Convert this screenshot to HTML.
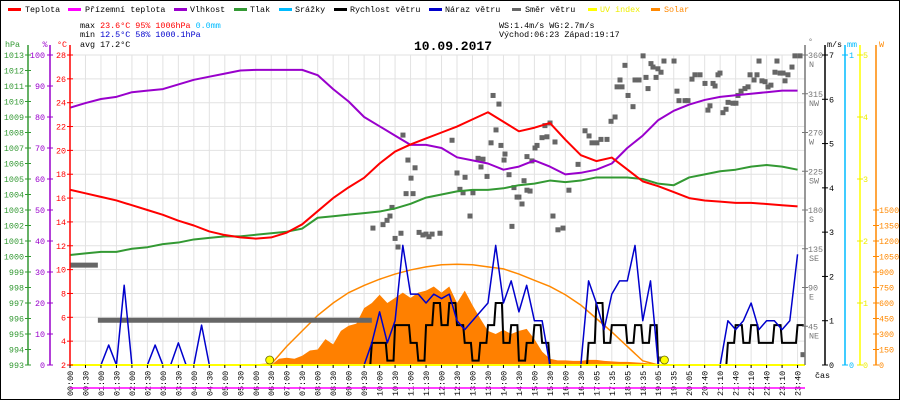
<!DOCTYPE html>
<html><head><meta charset="utf-8"><style>
body{margin:0;background:#fff;}
#wrap{position:relative;width:900px;height:400px;overflow:hidden;}
svg text{font-family:"Liberation Mono",monospace;font-size:8.4px;}
</style></head><body>
<div id="wrap">
<svg id="c" width="900" height="400" viewBox="0 0 900 400" xmlns="http://www.w3.org/2000/svg">
<rect x="0.5" y="0.5" width="899" height="399" fill="#fff" stroke="#000"/>
<g id="legend">
 <g><rect x="8" y="8" width="13" height="3" fill="#f00"/><text x="25" y="12">Teplota</text></g>
 <g><rect x="68" y="8" width="13" height="3" fill="#f0f"/><text x="85" y="12">Přízemní teplota</text></g>
 <g><rect x="174" y="8" width="13" height="3" fill="#90c"/><text x="190" y="12">Vlhkost</text></g>
 <g><rect x="234" y="8" width="13" height="3" fill="#393"/><text x="250" y="12">Tlak</text></g>
 <g><rect x="279" y="8" width="13" height="3" fill="#0bf"/><text x="295" y="12">Srážky</text></g>
 <g><rect x="334" y="8" width="13" height="3" fill="#000"/><text x="350" y="12">Rychlost větru</text></g>
 <g><rect x="429" y="8" width="13" height="3" fill="#00c"/><text x="445" y="12">Náraz větru</text></g>
 <g><rect x="512" y="8" width="9" height="3" fill="#666"/><text x="525" y="12">Směr větru</text></g>
 <g><rect x="588" y="8" width="9" height="3" fill="#ff0"/><text x="600" y="12" fill="#ee0">UV index</text></g>
 <g><rect x="651" y="8" width="9" height="3" fill="#f80"/><text x="664" y="12" fill="#f80">Solar</text></g>
</g>
<g>
 <text x="80" y="28">max <tspan fill="#f00">23.6°C</tspan>  <tspan fill="#f00">95%</tspan>  <tspan fill="#f00">1006hPa</tspan>      <tspan fill="#0bf">0.0mm</tspan></text>
 <text x="80" y="37">min <tspan fill="#00c">12.5°C</tspan>  <tspan fill="#00c">58%</tspan>  <tspan fill="#00c">1000.1hPa</tspan></text>
 <text x="80" y="47">avg 17.2°C</text>
 <text x="499" y="28">WS:1.4m/s     WG:2.7m/s</text>
 <text x="499" y="37">Východ:06:23  Západ:19:17</text>
</g>
<text x="414" y="50" style="font-size:13px;font-weight:bold">10.09.2017</text>
<g id="grid"></g>
<g id="plot"></g>
<g id="axes"></g>
</svg>
</div>
<script>
// ---- data ----
const timeLabels=["00:00","00:30","01:00","01:30","02:00","02:30","03:00","03:30","04:00","04:30","05:00","05:30","06:00","06:30","07:00","07:30","08:00","08:30","09:00","09:30","10:00","10:30","11:00","11:30","12:00","12:30","13:00","13:30","14:00","14:30","15:00","15:30","16:00","16:30","17:05","17:35","18:05","18:35","19:05","19:35","20:05","20:40","21:10","21:40","22:10","22:40","23:10","23:40"];
const temperature=[16.7,16.4,16.1,15.8,15.4,15.0,14.6,14.1,13.7,13.2,12.9,12.7,12.6,12.7,13.1,13.8,14.9,16.0,16.9,17.7,18.9,19.9,20.5,21.0,21.5,22.0,22.6,23.2,22.4,21.6,21.9,22.3,20.9,19.6,19.1,19.4,18.4,17.4,17.0,16.5,16.0,15.8,15.7,15.6,15.6,15.5,15.4,15.3];
const humidity=[83,84.5,85.8,86.5,88,88.5,89,90.5,92,93,94,95,95.2,95.2,95.2,95.2,93.5,89,85,80,77,74,71,71,70,67,66,65,63,64,66,64,61.5,62,63,65,70,74,79,82,84,85.5,86.5,87,87.5,88,88.5,88.5];
const pressure=[1000.1,1000.2,1000.3,1000.3,1000.5,1000.6,1000.8,1000.9,1001.1,1001.2,1001.3,1001.3,1001.4,1001.5,1001.6,1001.8,1002.5,1002.6,1002.7,1002.8,1002.9,1003.1,1003.4,1003.8,1004.0,1004.2,1004.3,1004.3,1004.4,1004.6,1004.7,1004.9,1004.8,1004.9,1005.1,1005.1,1005.1,1005.0,1004.7,1004.6,1005.1,1005.3,1005.5,1005.6,1005.8,1005.9,1005.8,1005.6];
const clearSky=[0,0,0,0,0,0,0,0,0,0,0,0,0,10,180,330,480,600,700,770,830,880,920,950,970,975,970,950,930,880,820,760,680,580,450,320,180,40,0,0,0,0,0,0,0,0,0,0];
// half-tick series (95 values)
const gust=[0,0,0,0,0,0.45,0,1.8,0,0,0,0.45,0,0,0.5,0,0,0.9,0,0,0,0,0,0,0,0,0,0,0,0,0,0,0,0,0,0,0,0,0,0.5,1.2,0.5,1.0,2.7,1.6,1.6,1.4,1.6,1.5,1.6,1.0,0.8,1.0,1.2,1.4,2.7,1.4,1.9,1.2,1.8,1.0,1.0,0,0,0,0,0,1.9,1.4,0.8,1.6,1.9,1.9,2.7,1.0,1.9,0,0,0,0,0,0,0,0,0,1.0,0.8,1.0,1.4,0.8,1.0,1.0,0.8,1.0,2.5];
const speed=[0,0,0,0,0,0,0,0,0,0,0,0,0,0,0,0,0,0,0,0,0,0,0,0,0,0,0,0,0,0,0,0,0,0,0,0,0,0,0,0.5,0.5,0.1,0.9,0.9,0.5,0.1,0.9,1.4,0.9,1.4,0.9,0.5,0.1,0.5,0.9,1.4,0.5,0.9,0.1,0.5,0.9,0.5,0,0,0,0,0,0.5,1.4,0.5,0.9,0.9,0.5,0.9,0.5,0.9,0,0,0,0,0,0,0,0,0,0.5,0.9,0.5,0.9,0.5,0.5,0.9,0.5,0.5,0.9];
const solar=[0,0,0,0,0,0,0,0,0,0,0,0,0,0,0,0,0,0,0,0,0,0,0,0,0,0,0,60,70,60,90,140,150,250,200,330,380,400,550,600,680,600,650,700,650,700,720,760,700,760,600,720,580,450,330,300,340,300,330,350,250,130,60,45,45,40,40,50,50,40,35,30,30,25,20,15,5,0,0,0,0,0,0,0,0,0,0,0,0,0,0,0,0,0,0];
const dirBarStart=[0,1.8];
const dirBarEnd=[1.8,19.5];
const dirBarValue=[116,52];
const dirTime=[19.57,20.22,20.48,20.67,20.8,21.0,21.19,21.38,21.51,21.83,22.03,22.16,22.29,21.71,22.55,22.8,23.0,23.19,23.39,23.9,24.68,25.0,25.19,25.39,25.52,25.84,26.03,26.36,26.68,26.55,26.94,27.2,27.33,27.52,27.71,27.84,28.04,28.1,28.36,28.55,28.68,28.88,29.0,29.2,29.33,29.52,29.72,29.52,29.84,30.04,30.17,30.49,30.68,30.81,31.01,31.2,31.33,31.52,31.85,32.23,32.82,33.27,33.53,33.72,34.04,34.3,34.69,34.95,35.21,35.34,35.66,35.53,35.85,36.05,36.37,36.5,36.76,37.02,37.21,37.34,37.53,37.66,37.86,37.98,38.18,38.37,39.02,39.21,39.34,39.73,39.92,40.18,40.37,40.7,41.02,41.21,41.34,41.54,41.67,41.86,41.99,42.18,42.38,42.51,42.83,43.02,43.15,43.35,43.6,43.8,43.93,44.19,44.38,44.51,44.7,44.9,45.09,45.28,45.54,45.67,45.87,46.06,46.19,46.38,46.64,46.83,47.16,38.18,47.35];
const dirValue=[159,163,168,173,183,147,137,153,267,238,217,199,229,199,154,151,152,149,152,153,261,223,204,200,218,173,200,240,239,230,219,258,313,273,303,255,238,245,221,161,206,195,195,187,214,203,202,242,237,252,255,264,278,265,281,173,259,157,159,203,233,272,266,258,258,262,262,283,288,323,323,331,348,313,300,331,331,359,334,321,350,346,334,344,340,353,353,318,307,307,307,332,337,337,327,296,301,327,324,337,339,293,297,305,304,304,313,318,321,323,337,331,337,353,330,329,323,325,340,353,339,339,330,337,346,359,359,7,12];
const sunriseT=12.9, sunsetT=38.4;

// ---- scales ----
const X0=70, DX=15.48, YB=365, YT=55, H=YB-YT;
const xs=t=>X0+t*DX;
const yTemp=v=>YB-(v-2)*H/26;
const yHum=v=>YB-v*H/100;
const yPres=v=>YB-(v-993)*H/20;
const yDir=v=>YB-v*H/360;
const yWind=v=>YB-v*H/7;
const ySol=v=>YB-v*155/1500;
const NS="http://www.w3.org/2000/svg";
function mk(tag,parent,attrs){const e=document.createElementNS(NS,tag);for(const k in attrs)e.setAttribute(k,attrs[k]);parent.appendChild(e);return e;}
const grid=document.getElementById('grid'),plot=document.getElementById('plot'),axes=document.getElementById('axes');

// grid
for(let v=4;v<=28;v+=2){const l=mk('line',grid,{x1:X0,x2:805,y1:yTemp(v),y2:yTemp(v),stroke:'#e2e2e2','stroke-width':1});

}
timeLabels.forEach((lab,i)=>{const l=mk('line',grid,{x1:xs(i),x2:xs(i),y1:YT,y2:YB,stroke:'#e2e2e2','stroke-width':1});

});

// solar fill
{let pts=[[xs(0),YB]];solar.forEach((v,k)=>pts.push([xs(k/2),ySol(v)]));pts.push([xs(47),YB]);
const p=mk('polygon',plot,{points:pts.map(p=>p.join(',')).join(' '),fill:'#ff8000'});

}
// clear sky curve
{let pts=[];clearSky.forEach((v,i)=>{if(v>0||(clearSky[i+1]>0)||(clearSky[i-1]>0))pts.push(xs(i)+','+ySol(v));});
const p=mk('polyline',plot,{points:pts.join(' '),fill:'none',stroke:'#f80','stroke-width':1.5});

}
// wind direction
dirBarStart.forEach((s,i)=>{const l=mk('line',plot,{x1:xs(s),x2:xs(dirBarEnd[i]),y1:yDir(dirBarValue[i]),y2:yDir(dirBarValue[i]),stroke:'#666','stroke-width':5});

});
dirTime.forEach((t,i)=>{const r=mk('rect',plot,{x:xs(t)-2.5,y:yDir(dirValue[i])-2.5,width:5,height:5,fill:'#666'});

});
function line(arr,yf,step,color,w,name){const pts=arr.map((v,i)=>xs(i*step)+','+yf(v)).join(' ');
const p=mk('polyline',plot,{points:pts,fill:'none',stroke:color,'stroke-width':w,'stroke-linejoin':'round'});

}
line(pressure,yPres,1,'#339933',2,'pressure-line');
line(humidity,yHum,1,'#9900cc',2,'humidity-line');
line(temperature,yTemp,1,'#ff0000',2,'temperature-line');
// speed step
{let d='M'+xs(0)+','+yWind(speed[0]);speed.forEach((v,k)=>{d+=' L'+xs(k/2)+','+yWind(v)+' L'+xs((k+1)/2-0.1)+','+yWind(v);});
const p=mk('path',plot,{d:d,fill:'none',stroke:'#000','stroke-width':2});

}
line(gust,yWind,0.5,'#0000cc',1.5,'wind-gust-line');
// baseline UV
{const l=mk('line',plot,{x1:X0,x2:805,y1:YB,y2:YB,stroke:'#ff0','stroke-width':2});

}
[[sunriseT,'sunrise-marker'],[sunsetT,'sunset-marker']].forEach(([t,n])=>{const c=mk('circle',plot,{cx:xs(t),cy:360,r:4,fill:'#ff0',stroke:'#660','stroke-width':0.8});

});

// axes
function vline(x,color,name){const l=mk('line',axes,{x1:x,x2:x,y1:YT-10,y2:YB,stroke:color,'stroke-width':1.5});

}
function txt(x,y,s,color,anchor,name){const t=mk('text',axes,{x:x,y:y,fill:color,'text-anchor':anchor||'start'});t.textContent=s;

return t;}
function tick(x,y,color){mk('line',axes,{x1:x-3,x2:x+3,y1:y,y2:y,stroke:color,'stroke-width':1});}
vline(28,'#339933','pressure-axis');vline(50,'#9900cc','humidity-axis');vline(70,'#f00','temperature-axis');
txt(5,47,'hPa','#339933','start','pressure-axis-title');txt(45,47,'%','#9900cc','middle','humidity-axis-title');txt(57,47,'°C','#f00','start','temperature-axis-title');
for(let v=993;v<=1013;v++){tick(28,yPres(v),'#339933');txt(24,yPres(v)+3,String(v),'#339933','end','pressure-tick-label');}
for(let v=0;v<=100;v+=10){tick(50,yHum(v),'#9900cc');txt(45,yHum(v)+3,String(v),'#9900cc','end','humidity-tick-label');}
for(let v=2;v<=28;v+=2){tick(70,yTemp(v),'#f00');txt(66,yTemp(v)+3,String(v),'#f00','end','temperature-tick-label');}
vline(805,'#777','direction-axis');vline(825,'#000','wind-axis');vline(845,'#0bf','rain-axis');vline(860,'#ff0','uv-axis');vline(876,'#f80','solar-axis');
txt(808,44,'°','#777','start','direction-axis-title');txt(827,47,'m/s','#000','start','wind-axis-title');txt(847,47,'mm','#0bf','start','rain-axis-title');txt(879,47,'W','#f80','start','solar-axis-title');
const compass=['','NE','E','SE','S','SW','W','NW','N'];
for(let v=45;v<=360;v+=45){tick(805,yDir(v),'#777');txt(808,yDir(v)+3,String(v),'#777','start','direction-tick-label');txt(809,yDir(v)+12,compass[v/45],'#777','start','direction-compass-label');}
for(let v=0;v<=7;v++){tick(825,yWind(v),'#000');txt(829,yWind(v)+3,String(v),'#000','start','wind-tick-label');}
tick(845,YT,'#0bf');txt(849,YT+3,'1','#0bf','start','rain-tick-label');tick(845,YB,'#0bf');txt(849,YB+3,'0','#0bf','start','rain-tick-label');
for(let v=0;v<=5;v++){tick(860,YB-v*H/5,'#ee0');txt(863,YB-v*H/5+3,String(v),'#ee0','start','uv-tick-label');}
for(let v=0;v<=1500;v+=150){tick(876,ySol(v),'#f80');txt(879,ySol(v)+3,String(v),'#f80','start','solar-tick-label');}
// x axis
timeLabels.forEach((lab,i)=>{mk('line',axes,{x1:xs(i),x2:xs(i),y1:YB,y2:YB+3,stroke:'#000','stroke-width':1});
const t=mk('text',axes,{x:0,y:0,transform:`translate(${xs(i)+3},396) rotate(-90)`,fill:'#000'});t.textContent=lab;

});
txt(815,378,'čas','#000','start','x-axis-title');
{const l=mk('line',axes,{x1:X0,x2:805,y1:388,y2:388,stroke:'#f0f','stroke-width':1.5});

}
</script>
</body></html>
